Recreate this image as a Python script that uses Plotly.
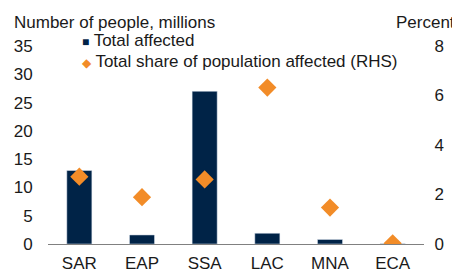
import plotly.graph_objects as go

categories = ["SAR", "EAP", "SSA", "LAC", "MNA", "ECA"]
total_affected = [13.0, 1.6, 27.0, 1.9, 0.8, 0.05]
share_affected = [2.72, 1.89, 2.61, 6.32, 1.47, 0.03]
left_ticks = [0, 5, 10, 15, 20, 25, 30, 35]
right_ticks = [0, 2, 4, 6, 8]

NAVY = "#002347"
ORANGE = "#F28C28"
FONT = "Liberation Sans, Arial, sans-serif"
FS = 17

fig = go.Figure()
fig.add_trace(go.Bar(x=categories, y=total_affected, marker_color=NAVY,
                     width=0.4, name="Total affected", showlegend=False))
fig.add_trace(go.Scatter(x=categories, y=share_affected, mode="markers", yaxis="y2",
                         marker=dict(symbol="diamond", size=14, color=ORANGE),
                         name="Total share of population affected (RHS)", showlegend=False))

# page body has an 8px margin, so the figure is sized to fit the 460x269 window
fig.update_layout(
    width=452, height=261,
    margin=dict(l=40, r=36, t=38, b=25, autoexpand=False),
    paper_bgcolor="white", plot_bgcolor="white",
    font=dict(family=FONT, size=FS, color="#1a1a1a"),
    xaxis=dict(showline=True, linecolor="#808080", linewidth=1, ticks="outside",
               ticklen=4, tickcolor="rgba(0,0,0,0)", automargin=False,
               showgrid=False, zeroline=False),
    yaxis=dict(range=[0, 35], tickvals=left_ticks, showgrid=False, zeroline=False,
               ticks="outside", ticklen=11, tickcolor="rgba(0,0,0,0)", automargin=False),
    yaxis2=dict(range=[0, 8], tickvals=right_ticks, overlaying="y", side="right",
                showgrid=False, zeroline=False, ticks="outside", ticklen=6,
                tickcolor="rgba(0,0,0,0)", automargin=False),
    showlegend=False,
    bargap=0.6,
)

fig.add_annotation(text="Number of people, millions", xref="paper", yref="paper",
                   x=(12-48)/376, y=(244-22)/198, xanchor="left", yanchor="middle",
                   showarrow=False, font=dict(size=FS))
fig.add_annotation(text="Percent", xref="paper", yref="paper",
                   x=(457-48)/376, y=(244-22)/198, xanchor="right", yanchor="middle",
                   showarrow=False, font=dict(size=FS))
fig.add_annotation(text=f"<span style='color:{NAVY};font-size:12px'>■</span> Total affected",
                   xref="paper", yref="paper", x=(80-48)/376, y=(244-41)/198,
                   xanchor="left", yanchor="middle", showarrow=False, font=dict(size=FS))
fig.add_annotation(text=f"<span style='color:{ORANGE};font-size:12px'>◆</span> Total share of population affected (RHS)",
                   xref="paper", yref="paper", x=(80-48)/376, y=(244-62)/198,
                   xanchor="left", yanchor="middle", showarrow=False, font=dict(size=FS))

fig.write_html("out.html")
